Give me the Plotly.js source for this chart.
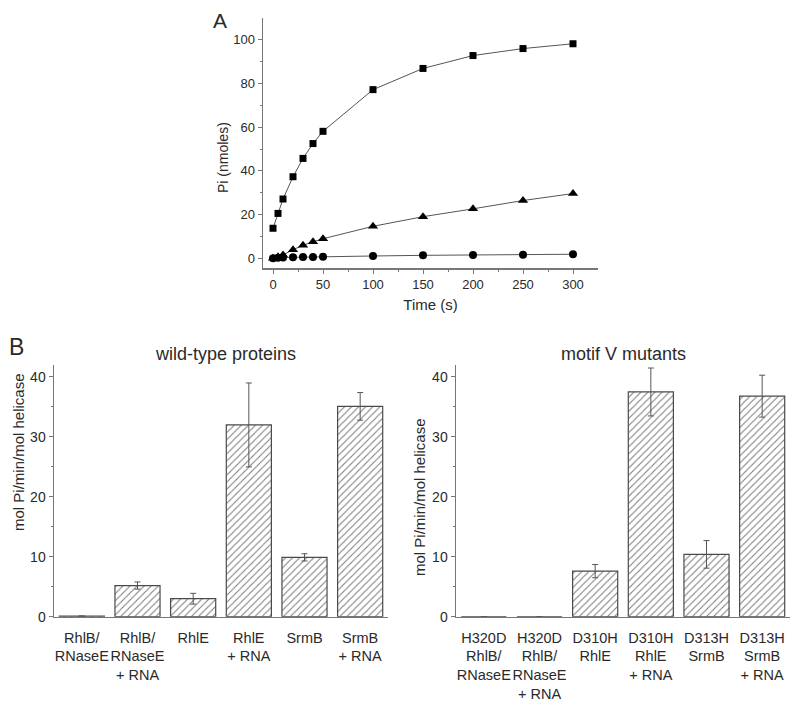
<!DOCTYPE html>
<html>
<head>
<meta charset="utf-8">
<script src="https://cdn.plot.ly/plotly-3.0.1.min.js"></script>
<style>
  html, body { margin: 0; padding: 0; background: #fff; }
  #chart { width: 800px; height: 704px; }
</style>
</head>
<body>
<div id="chart"></div>
<script>
// ---- Panel A data ----
const timeS = [0, 5, 10, 20, 30, 40, 50, 100, 150, 200, 250, 300];
const piSquares = [13.7, 20.5, 27.1, 37.3, 45.7, 52.5, 58.1, 77.2, 86.9, 92.8, 96.0, 98.2];
const piTriangles = [0, 0.6, 1.5, 3.9, 5.9, 7.5, 8.9, 14.6, 19.0, 22.6, 26.4, 29.6];
const piCircles = [0, 0.2, 0.3, 0.4, 0.5, 0.5, 0.6, 1.0, 1.3, 1.5, 1.6, 1.8];

// ---- Panel B data ----
const wtCategories = ["RhlB/<br>RNaseE", "RhlB/<br>RNaseE<br>+ RNA", "RhlE", "RhlE<br>+ RNA", "SrmB", "SrmB<br>+ RNA"];
const wtValues = [0.1, 5.2, 3.0, 32.0, 9.9, 35.1];
const wtErrors = [null, 0.6, 0.9, 7.0, 0.6, 2.3];

const mutCategories = ["H320D<br>RhlB/<br>RNaseE", "H320D<br>RhlB/<br>RNaseE<br>+ RNA", "D310H<br>RhlE", "D310H<br>RhlE<br>+ RNA", "D313H<br>SrmB", "D313H<br>SrmB<br>+ RNA"];
const mutValues = [0, 0, 7.6, 37.5, 10.4, 36.8];
const mutErrors = [null, null, 1.1, 4.0, 2.3, 3.5];

const W = 800, H = 704;
const fx = px => px / W;
const fy = py => 1 - py / H;

const FONT = "'Liberation Sans', Arial, Helvetica, sans-serif";
const textColor = "#2a2a2a";
const axisColor = "#777";
const lineColor = "#555";

function lineTrace(y, symbol, size) {
  return {
    x: timeS, y: y, type: "scatter", mode: "lines+markers",
    xaxis: "x", yaxis: "y",
    line: { color: lineColor, width: 1 },
    marker: { symbol: symbol, size: size, color: "#000" },
    showlegend: false, hoverinfo: "x+y"
  };
}

function barTrace(cats, vals, errs, xa, ya) {
  return {
    x: cats, y: vals, type: "bar", xaxis: xa, yaxis: ya,
    marker: {
      color: "#fff",
      line: { color: "#4a4a4a", width: 1.2 },
      pattern: { shape: "/", fgcolor: "#7a7a7a", bgcolor: "#fff", size: 5, solidity: 0.2 }
    },
    error_y: { type: "data", array: errs, visible: true, color: "#555", thickness: 1, width: 3 },
    showlegend: false
  };
}

const data = [
  lineTrace(piSquares, "square", 7),
  lineTrace(piTriangles, "triangle-up", 9),
  lineTrace(piCircles, "circle", 8),
  barTrace(wtCategories, wtValues, wtErrors, "x2", "y2"),
  barTrace(mutCategories, mutValues, mutErrors, "x3", "y3")
];

const baseAxis = {
  showgrid: false, zeroline: false, showline: true,
  linecolor: axisColor, linewidth: 1.5,
  ticks: "outside", tickcolor: axisColor, tickwidth: 1, ticklen: 4,
  automargin: false, fixedrange: true
};

function barY(anchor) {
  return Object.assign({}, baseAxis, {
    anchor: anchor, domain: [fy(616.7), fy(365)], range: [0, 42],
    tickvals: [0, 10, 20, 30, 40],
    minor: { tickvals: [5, 15, 25, 35], ticks: "outside", ticklen: 2, tickcolor: axisColor },
    tickfont: { family: FONT, size: 14, color: textColor }
  });
}

function barX(anchor, domain) {
  return Object.assign({}, baseAxis, {
    anchor: anchor, domain: domain, type: "category", range: [-0.5, 5.5],
    ticks: "", tickangle: 0,
    tickfont: { family: FONT, size: 14.5, color: textColor }, ticklabelstandoff: 7
  });
}

function ann(text, px, py, size, angle) {
  return { text: text, x: fx(px), y: fy(py), xref: "paper", yref: "paper", showarrow: false,
           textangle: angle || 0, font: { family: FONT, size: size, color: textColor },
           xanchor: "center", yanchor: "middle" };
}

const layout = {
  width: W, height: H,
  margin: { l: 0, r: 0, t: 0, b: 0, pad: 0 },
  paper_bgcolor: "#fff", plot_bgcolor: "#fff",
  font: { family: FONT, color: textColor, size: 13 },
  bargap: 0.19,
  xaxis: Object.assign({}, baseAxis, {
    anchor: "y", domain: [fx(263), fx(598)], range: [-10, 325],
    tickvals: [0, 50, 100, 150, 200, 250, 300],
    minor: { tickvals: [25, 75, 125, 175, 225, 275], ticks: "outside", ticklen: 2, tickcolor: axisColor },
    tickfont: { family: FONT, size: 13, color: textColor },
    title: { text: "Time (s)", font: { family: FONT, size: 15, color: textColor }, standoff: 8 }
  }),
  yaxis: Object.assign({}, baseAxis, {
    anchor: "x", domain: [fy(268), fy(18)], range: [-4.5, 110],
    tickvals: [0, 20, 40, 60, 80, 100],
    minor: { tickvals: [10, 30, 50, 70, 90], ticks: "outside", ticklen: 2, tickcolor: axisColor },
    tickfont: { family: FONT, size: 13, color: textColor }
  }),
  xaxis2: barX("y2", [fx(54), fx(388)]),
  yaxis2: barY("x2"),
  xaxis3: barX("y3", [fx(456), fx(790)]),
  yaxis3: barY("x3"),
  annotations: [
    ann("A", 220, 21, 21),
    ann("B", 16, 347, 23),
    ann("Pi (nmoles)", 223, 158, 14, -90),
    ann("wild-type proteins", 226, 354, 18),
    ann("motif V mutants", 623, 354, 18),
    ann("mol Pi/min/mol helicase", 18, 452, 15, -90),
    ann("mol Pi/min/mol helicase", 419, 497, 15, -90)
  ]
};

Plotly.newPlot("chart", data, layout, { displayModeBar: false, staticPlot: true });
</script>
</body>
</html>
